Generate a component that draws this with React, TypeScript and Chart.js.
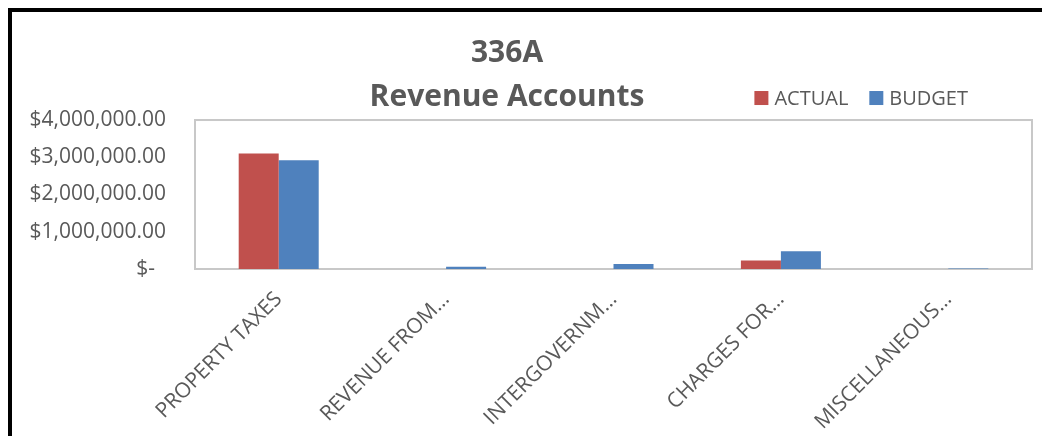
import React, { useEffect, useRef } from "react";
import { Chart, registerables } from "chart.js";

Chart.register(...registerables);

const categories = ["PROPERTY TAXES", "REVENUE FROM…", "INTERGOVERNM…", "CHARGES FOR…", "MISCELLANEOUS…"];
const actualValues = [3100000, 0, 0, 225000, 0];
const budgetValues = [2920000, 62000, 135000, 478000, 15000];
const yTickValues = [0, 1000000, 2000000, 3000000, 4000000];
const yTickLabels = ["$-  ", "$1,000,000.00", "$2,000,000.00", "$3,000,000.00", "$4,000,000.00"];
const titleLines = ["336A", "Revenue Accounts"];
const seriesNames = ["ACTUAL", "BUDGET"];
const seriesColors = ["#C0504D", "#4F81BD"];

const FONT = "'Open Sans', sans-serif";
const TEXT = "#595959";

const plotFrame = {
  id: "plotFrame",
  beforeDatasetsDraw(chart: any) {
    const { ctx, chartArea: a } = chart;
    ctx.save();
    ctx.strokeStyle = "#C8C8C8";
    ctx.lineWidth = 2;
    ctx.strokeRect(a.left, a.top, a.right - a.left, a.bottom - a.top);
    ctx.restore();
  },
};

const topLegend = {
  id: "topLegend",
  afterDraw(chart: any) {
    const { ctx, chartArea: a } = chart;
    ctx.save();
    ctx.font = `20px ${FONT}`;
    ctx.textBaseline = "middle";
    ctx.textAlign = "left";
    const box = 14;
    const gapBox = 6;
    const gapItem = 21;
    const items = chart.data.datasets.map((d: any) => ({
      label: d.label,
      color: d.backgroundColor,
      w: ctx.measureText(d.label).width,
    }));
    const total =
      items.reduce((s: number, it: any) => s + box + gapBox + it.w, 0) + gapItem * (items.length - 1);
    let x = a.right - 64 - total;
    const y = a.top - 22;
    items.forEach((it: any) => {
      ctx.fillStyle = it.color;
      ctx.fillRect(x, y - box / 2, box, box);
      x += box + gapBox;
      ctx.fillStyle = TEXT;
      ctx.fillText(it.label, x, y + 1);
      x += it.w + gapItem;
    });
    ctx.restore();
  },
};

export default function App() {
  const canvasRef = useRef<HTMLCanvasElement | null>(null);

  useEffect(() => {
    if (!canvasRef.current) return;
    const chart = new Chart(canvasRef.current, {
      type: "bar",
      data: {
        labels: categories,
        datasets: [
          {
            label: seriesNames[0],
            data: actualValues,
            backgroundColor: seriesColors[0],
            categoryPercentage: 0.478,
            barPercentage: 1.0,
          },
          {
            label: seriesNames[1],
            data: budgetValues,
            backgroundColor: seriesColors[1],
            categoryPercentage: 0.478,
            barPercentage: 1.0,
          },
        ],
      },
      options: {
        responsive: false,
        animation: false,
        layout: { padding: { left: -30, right: 18, top: 0, bottom: 0 } },
        plugins: {
          legend: { display: false },
          tooltip: { enabled: false },
          title: {
            display: true,
            text: titleLines,
            color: TEXT,
            font: { family: FONT, size: 30, weight: "bold", lineHeight: 1.467 },
            padding: { top: 19, bottom: 1 },
          },
        },
        scales: {
          x: {
            grid: { display: false, drawTicks: false },
            border: { display: false },
            ticks: {
              color: TEXT,
              font: { family: FONT, size: 21 },
              minRotation: 45,
              maxRotation: 45,
              autoSkip: false,
              padding: 18,
            },
            afterFit: (s: any) => {
              s.height = 167;
            },
          },
          y: {
            min: 0,
            max: 4000000,
            grid: { display: false, drawTicks: false },
            border: { display: false },
            ticks: {
              stepSize: 1000000,
              color: TEXT,
              font: { family: FONT, size: 21 },
              padding: 29,
              callback: (v: any) => {
                const i = yTickValues.indexOf(Number(v));
                return i >= 0 ? yTickLabels[i] : "";
              },
            },
            afterFit: (s: any) => {
              s.width = 213;
            },
          },
        },
      },
      plugins: [plotFrame, topLegend],
    });
    return () => chart.destroy();
  }, []);

  return (
    <div
      style={{
        width: 1042,
        height: 428,
        boxSizing: "border-box",
        borderTop: "4px solid #000",
        borderLeft: "4px solid #000",
        overflow: "hidden",
        background: "#fff",
      }}
    >
      <canvas ref={canvasRef} width={1038} height={424} style={{ display: "block", width: 1038, height: 424 }} />
    </div>
  );
}
